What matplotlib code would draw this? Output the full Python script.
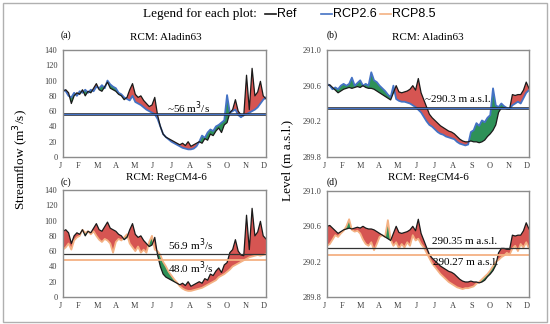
import numpy as np
import matplotlib
matplotlib.use("Agg")
import matplotlib.pyplot as plt
from matplotlib.patches import Rectangle

# day of year, sampled every 5 days
days = np.arange(0, 366, 5)
months = ["J", "F", "M", "A", "M", "J", "J", "A", "S", "O", "N", "D"]

# streamflow (m3/s)
flow_ref = [86, 88, 84, 70, 80, 84, 82, 88, 80, 86, 84, 90, 96, 88, 86, 92, 98, 90, 88, 86,
            82, 80, 75, 78, 88, 96, 82, 78, 80, 74, 70, 66, 68, 78, 55, 40, 30, 26, 24, 22,
            20, 18, 16, 18, 15, 20, 14, 16, 18, 20, 18, 24, 22, 30, 28, 34, 38, 32, 42, 45,
            58, 62, 75, 60, 55, 54, 107, 62, 116, 80, 85, 99, 80, 76]
flow_rcp26 = [88, 86, 80, 78, 84, 80, 86, 84, 88, 84, 88, 86, 92, 90, 94, 90, 100, 95, 92, 90,
              84, 82, 78, 76, 74, 80, 72, 70, 68, 65, 62, 60, 58, 56, 50, 40, 30, 26, 23, 20,
              18, 16, 14, 12, 11, 10, 10, 11, 14, 20, 28, 25, 32, 36, 34, 40, 42, 45, 48, 81,
              58, 60, 62, 55, 52, 55, 56, 58, 60, 62, 65, 70, 75, 78]
flow_rcp85 = [62, 65, 70, 62, 74, 78, 80, 88, 84, 86, 82, 86, 80, 75, 72, 76, 74, 70, 58, 72,
              76, 74, 78, 82, 70, 65, 60, 66, 58, 62, 58, 72, 80, 62, 60, 55, 46, 40, 33, 28,
              23, 19, 14, 11, 9, 8, 8, 9, 10, 11, 12, 14, 16, 18, 20, 22, 26, 28, 30, 33,
              36, 40, 42, 44, 46, 48, 50, 52, 53, 54, 55, 54, 55, 56]

# lake level (m a.s.l.)
level_ref = [290.60, 290.61, 290.58, 290.55, 290.52, 290.54, 290.56, 290.57, 290.58, 290.57,
             290.58, 290.59, 290.58, 290.60, 290.58, 290.57, 290.57, 290.56, 290.54, 290.52,
             290.50, 290.48, 290.46, 290.44, 290.52, 290.60, 290.53, 290.52, 290.53, 290.54,
             290.56, 290.60, 290.55, 290.68, 290.52, 290.44, 290.36, 290.28, 290.24, 290.21,
             290.18, 290.15, 290.13, 290.11, 290.09, 290.08, 290.06, 290.03, 290.00, 289.98,
             289.97, 289.97, 289.98, 289.97, 289.97, 289.96, 289.97, 289.99, 290.03, 290.06,
             290.10, 290.16, 290.30, 290.35, 290.35, 290.34, 290.34, 290.50, 290.49, 290.50,
             290.50, 290.55, 290.64, 290.57]
level_rcp26 = [290.62, 290.60, 290.56, 290.58, 290.56, 290.60, 290.62, 290.60, 290.62, 290.69,
               290.60, 290.63, 290.66, 290.60, 290.62, 290.60, 290.75, 290.66, 290.64, 290.60,
               290.57, 290.54, 290.50, 290.47, 290.60, 290.45, 290.43, 290.42, 290.42, 290.41,
               290.40, 290.38, 290.36, 290.33, 290.30, 290.25, 290.20, 290.16, 290.14, 290.11,
               290.08, 290.06, 290.05, 290.03, 290.02, 290.01, 290.00, 289.97, 289.95, 289.94,
               289.93, 289.94, 290.08, 290.10, 290.18, 290.15, 290.21, 290.19, 290.24, 290.27,
               290.57, 290.38, 290.36, 290.40, 290.37, 290.35, 290.34, 290.38, 290.40, 290.42,
               290.40, 290.46, 290.52, 290.55]
level_rcp85 = [290.38, 290.40, 290.45, 290.50, 290.48, 290.52, 290.55, 290.60, 290.68, 290.56,
               290.54, 290.55, 290.52, 290.45, 290.40, 290.38, 290.42, 290.33, 290.40, 290.48,
               290.50, 290.48, 290.67, 290.45, 290.38, 290.42, 290.35, 290.40, 290.36, 290.42,
               290.38, 290.50, 290.44, 290.46, 290.40, 290.36, 290.30, 290.24, 290.18, 290.14,
               290.10, 290.06, 290.03, 290.00, 289.97, 289.95, 289.93, 289.91, 289.90, 289.89,
               289.90, 289.90, 289.91, 289.92, 289.95, 289.97, 290.00, 290.03, 290.06, 290.10,
               290.15, 290.20, 290.22, 290.25, 290.27, 290.30, 290.28, 290.35, 290.38, 290.32,
               290.40, 290.36, 290.42, 290.35]

# annual means shown as horizontal lines
flow_mean_a = 56.0
flow_mean_ref_c = 56.9
flow_mean_rcp85_c = 48.0
level_mean_b = 290.35
level_mean_ref_d = 290.35
level_mean_rcp85_d = 290.27

BLACK = "#1a1a1a"
BLUE = "#4472c4"
ORANGE = "#f4b183"
RED = "#d65552"
GREEN = "#2e9158"
SERIF = ["Liberation Serif", "DejaVu Serif"]
SANS = ["Liberation Sans", "DejaVu Sans"]

W, H = 550, 324
fig = plt.figure(figsize=(W / 100, H / 100), dpi=100)


def px_box(x0, y0, x1, y1):
    return [x0 / W, 1 - y1 / H, (x1 - x0) / W, (y1 - y0) / H]


def fig_text(x, y, s, **kw):
    fig.text(x / W, 1 - y / H, s, **kw)


def draw_panel(box, ref, scen, scen_color, ylim, yticks, yfmt):
    ax = fig.add_axes(px_box(*box))
    ref = np.asarray(ref)
    scen = np.asarray(scen)
    ax.fill_between(days, ref, scen, where=ref >= scen, interpolate=True, color=RED, lw=0)
    ax.fill_between(days, ref, scen, where=scen > ref, interpolate=True, color=GREEN, lw=0)
    ax.plot(days, scen, color=scen_color, lw=1.3)
    ax.plot(days, ref, color=BLACK, lw=0.9)
    ax.set_xlim(0, 365)
    ax.set_ylim(*ylim)
    ax.set_yticks(yticks)
    ax.set_yticklabels([yfmt.format(v) for v in yticks], fontsize=6, color="#404040",
                       family=SERIF)
    ax.set_xticks([])
    ax.tick_params(axis="y", length=0, pad=4)
    for sp in ax.spines.values():
        sp.set_color("#8c8c8c")
        sp.set_linewidth(1.0)
    for i, m in enumerate(months):
        ax.text(-0.015 + i * 1.005 / 11, -0.085, m, transform=ax.transAxes, ha="center",
                va="center", fontsize=6, color="#404040", family=SERIF)
    return ax


def note(ax, day, y, s):
    ax.text(day, y, s, ha="center", va="center", fontsize=8, family=SERIF)


# (a) streamflow, Aladin63
ax = draw_panel((63, 50, 266, 157), flow_ref, flow_rcp26, BLUE, (0, 140),
                list(range(0, 141, 20)), "{:d}")
ax.axhline(flow_mean_a, color=BLACK, lw=1.8)
ax.axhline(flow_mean_a, color=BLUE, lw=0.9)
note(ax, 225, 65, "~56 m$^3$/s")

# (b) level, Aladin63
ax = draw_panel((327, 50, 529, 157), level_ref, level_rcp26, BLUE, (289.8, 291.0),
                [289.8, 290.2, 290.6, 291.0], "{:.1f}")
ax.axhline(level_mean_b, color=BLACK, lw=1.8)
ax.axhline(level_mean_b, color=BLUE, lw=0.9)
note(ax, 237, 290.45, "~290.3 m a.s.l.")

# (c) streamflow, RegCM4-6
ax = draw_panel((63, 190, 266, 297), flow_ref, flow_rcp85, ORANGE, (0, 140),
                list(range(0, 141, 20)), "{:d}")
ax.axhline(flow_mean_rcp85_c, color=ORANGE, lw=1.3)
ax.axhline(flow_mean_ref_c, color="#333333", lw=0.9)
note(ax, 229, 68, "56.9 m$^3$/s")
note(ax, 229, 38, "48.0 m$^3$/s")

# (d) level, RegCM4-6
ax = draw_panel((327, 191, 529, 297), level_ref, level_rcp85, ORANGE, (289.8, 291.0),
                [289.8, 290.2, 290.6, 291.0], "{:.1f}")
ax.axhline(level_mean_rcp85_d, color=ORANGE, lw=1.3)
ax.axhline(level_mean_ref_d, color="#333333", lw=0.9)
note(ax, 249, 290.43, "290.35 m a.s.l.")
note(ax, 251, 290.19, "290.27 m a.s.l.")

# titles and panel letters
for x, y, s in [(166, 37, "RCM: Aladin63"), (428, 37, "RCM: Aladin63"),
                (166, 178, "RCM: RegCM4-6"), (428, 178, "RCM: RegCM4-6")]:
    fig_text(x, y, s, ha="center", va="center", fontsize=8, family=SERIF)
for x, y, s in [(66, 35, "(a)"), (332, 35, "(b)"), (66, 182, "(c)"), (332, 182, "(d)")]:
    fig_text(x, y, s, ha="center", va="center", fontsize=7, family=SERIF)

fig_text(21, 160, "Streamflow (m$^3$/s)", rotation=90, ha="center", va="center",
         fontsize=9.5, family=SERIF)
fig_text(287, 160, "Level (m a.s.l.)", rotation=90, ha="center", va="center",
         fontsize=9.5, family=SERIF)

# legend
fig_text(143, 14, "Legend for each plot:", ha="left", va="center", fontsize=9.5, family=SERIF)
for x0, color, label in [(265, BLACK, "Ref"), (321, BLUE, "RCP2.6"), (380, ORANGE, "RCP8.5")]:
    fig.add_artist(plt.Line2D([x0 / W, (x0 + 11) / W], [1 - 14 / H, 1 - 14 / H],
                              color=color, lw=1.2))
    fig_text(x0 + 12, 14, label, ha="left", va="center", fontsize=9, family=SANS)

# outer frame
fig.add_artist(Rectangle((3 / W, 2 / H), (W - 6) / W, (H - 5) / H, transform=fig.transFigure,
                         fill=False, edgecolor="#b0b0b0", lw=1.0))

fig.savefig("out.png", dpi=100)
